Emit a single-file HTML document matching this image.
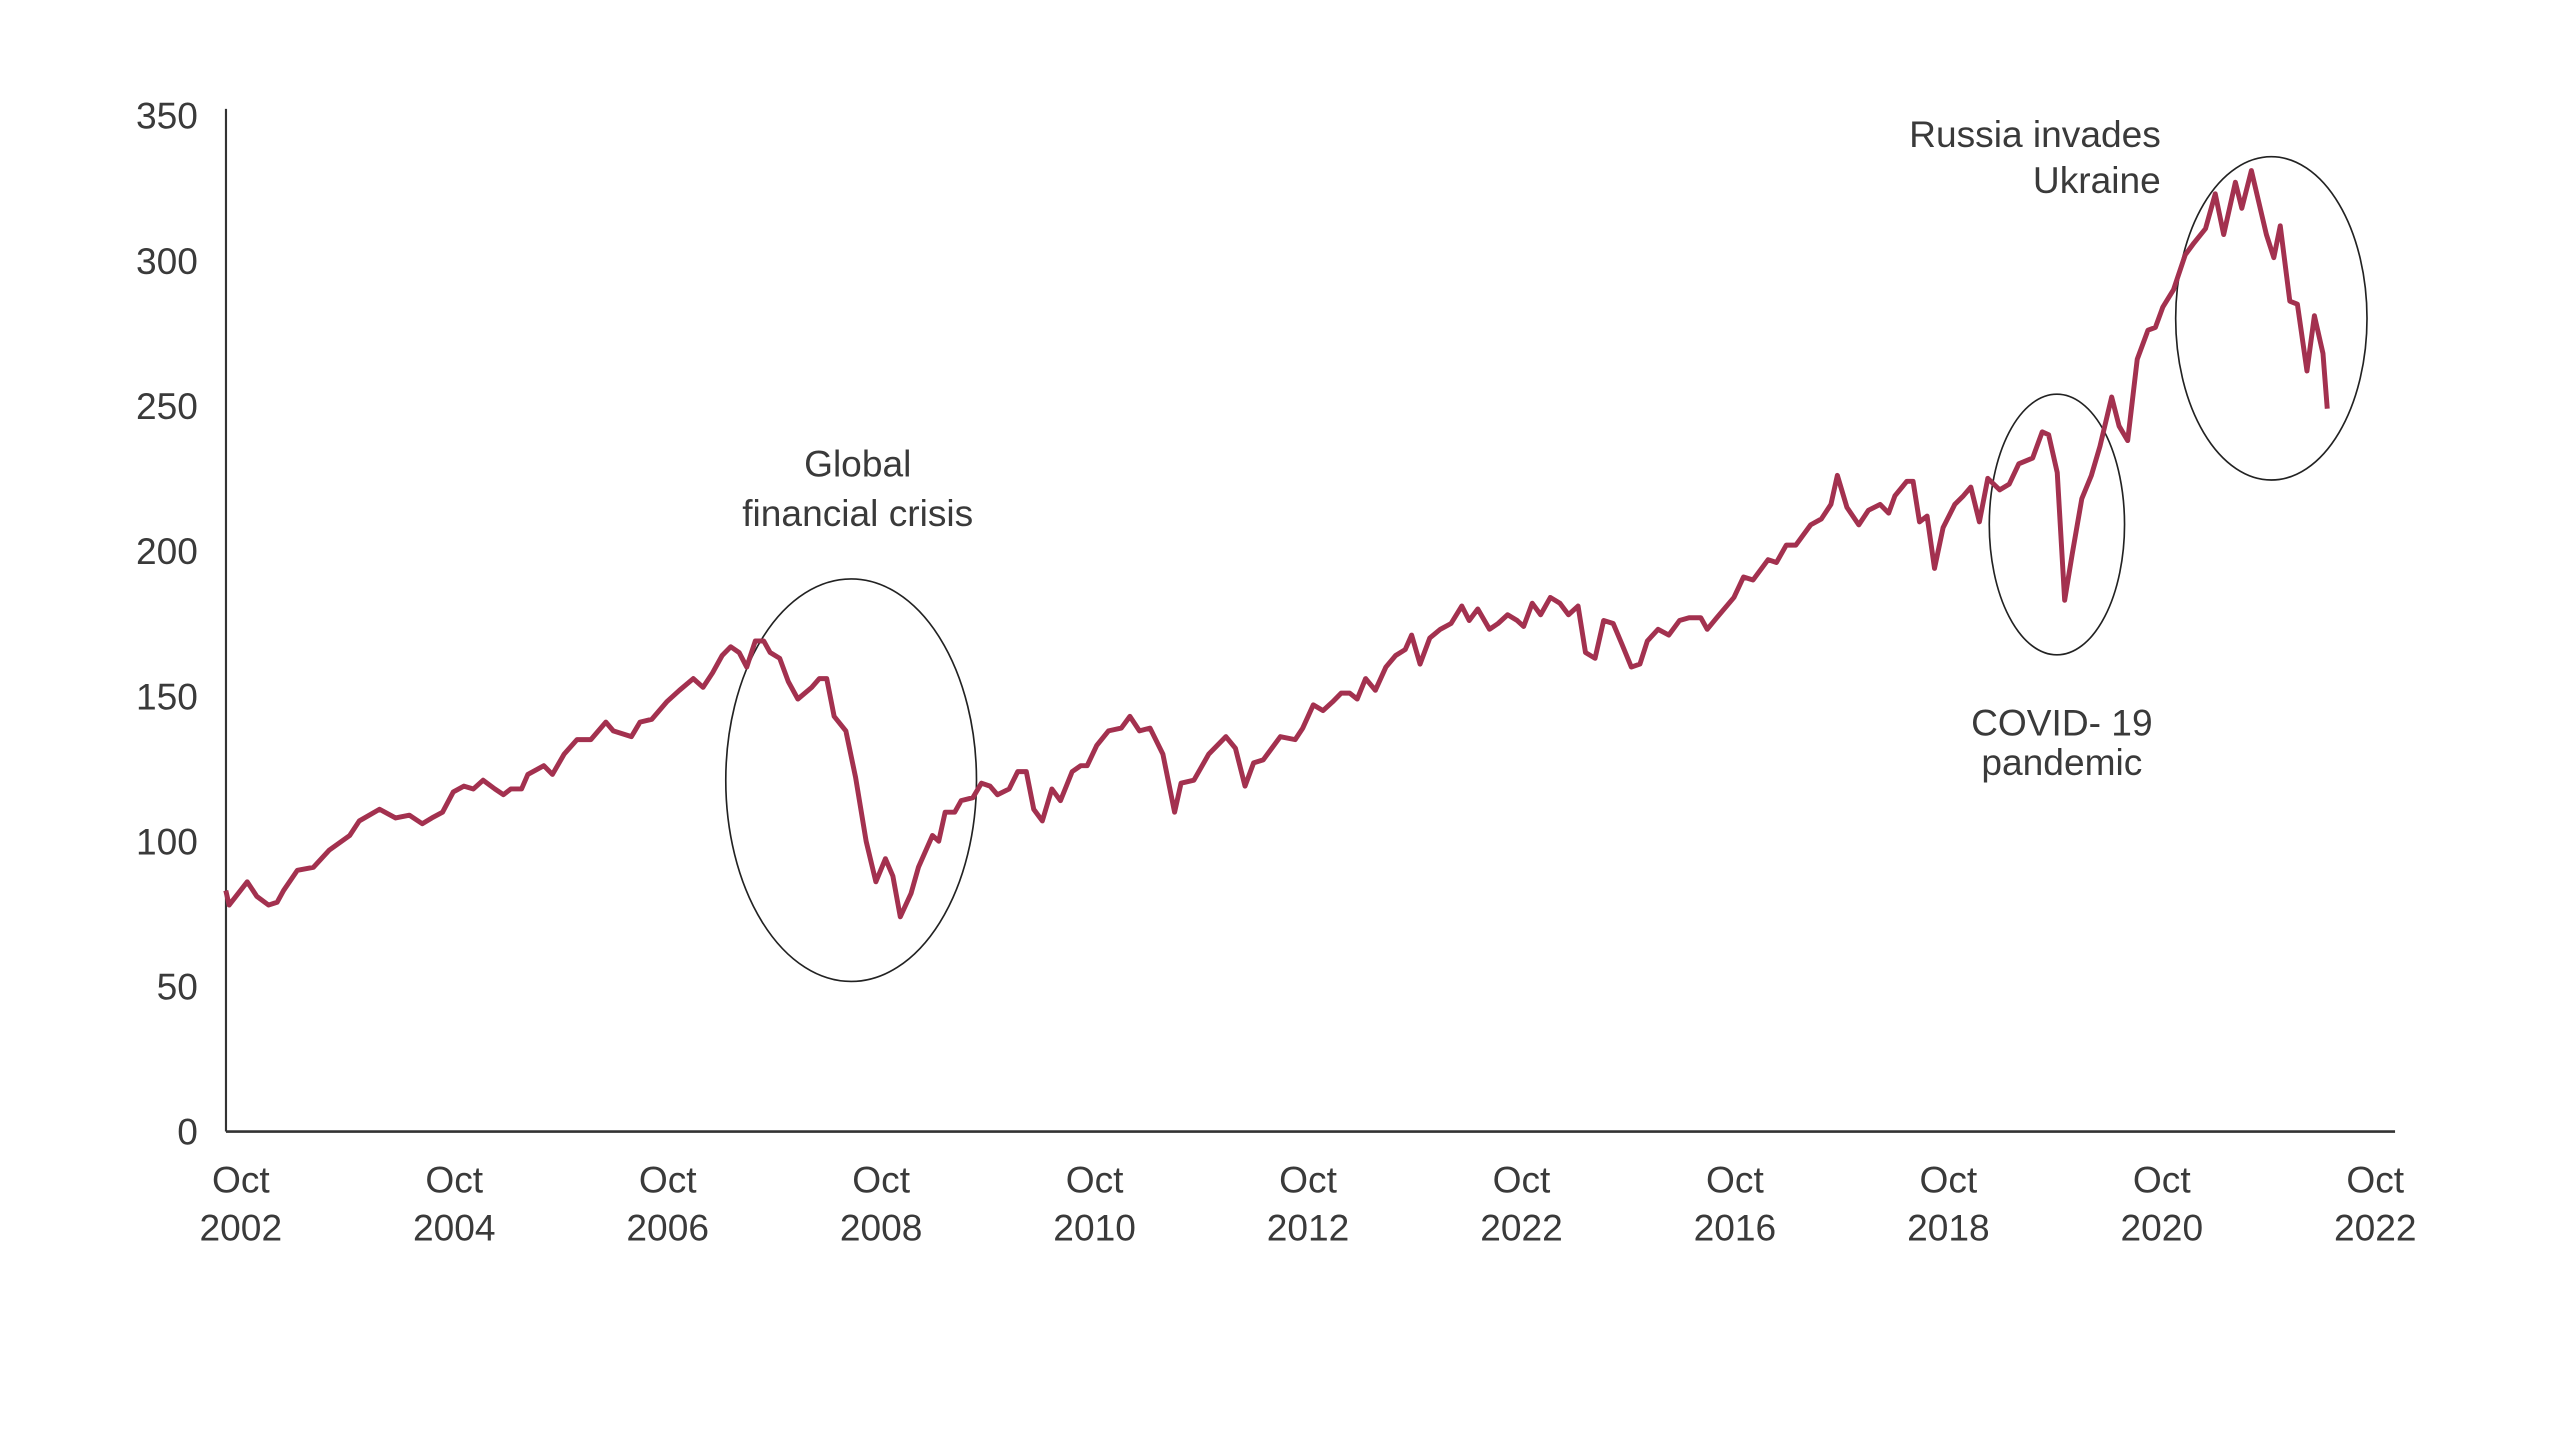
<!DOCTYPE html>
<html><head><meta charset="utf-8"><style>
html,body{margin:0;padding:0;background:#fff;}
svg{display:block;}
text{font-family:"Liberation Sans",sans-serif;fill:#3a3a3a;font-size:22.5px;}
</style></head><body>
<svg id="chart" width="2560" height="1440" viewBox="0 0 1552 873" xmlns="http://www.w3.org/2000/svg">
<g id="axes"></g>
<g id="annots"></g>
<path id="series" fill="none" stroke="#a3314f" stroke-width="3" stroke-linejoin="round"></path>
</svg>
<script>
const years=[2002.61,2002.64,2002.81,2002.90,2003.01,2003.09,2003.15,2003.28,2003.43,2003.58,2003.77,2003.86,2004.05,2004.20,2004.33,2004.45,2004.54,2004.64,2004.74,2004.84,2004.93,2005.02,2005.13,2005.21,2005.28,2005.38,2005.44,2005.59,2005.67,2005.78,2005.90,2006.03,2006.17,2006.24,2006.41,2006.49,2006.60,2006.74,2006.86,2006.99,2007.08,2007.17,2007.26,2007.34,2007.42,2007.49,2007.57,2007.65,2007.71,2007.80,2007.88,2007.97,2008.10,2008.17,2008.24,2008.31,2008.42,2008.51,2008.61,2008.70,2008.79,2008.86,2008.93,2009.03,2009.10,2009.23,2009.29,2009.35,2009.44,2009.50,2009.61,2009.69,2009.77,2009.84,2009.95,2010.03,2010.11,2010.18,2010.26,2010.35,2010.43,2010.54,2010.62,2010.68,2010.77,2010.88,2011.00,2011.08,2011.17,2011.27,2011.39,2011.50,2011.56,2011.68,2011.82,2011.98,2012.07,2012.16,2012.24,2012.33,2012.49,2012.63,2012.70,2012.80,2012.89,2012.98,2013.06,2013.14,2013.21,2013.29,2013.38,2013.48,2013.57,2013.66,2013.72,2013.80,2013.89,2013.99,2014.09,2014.19,2014.26,2014.34,2014.45,2014.53,2014.62,2014.71,2014.77,2014.85,2014.93,2015.02,2015.11,2015.19,2015.28,2015.35,2015.44,2015.52,2015.61,2015.69,2015.78,2015.86,2015.93,2016.03,2016.13,2016.23,2016.32,2016.43,2016.49,2016.58,2016.74,2016.83,2016.92,2017.06,2017.14,2017.23,2017.32,2017.46,2017.56,2017.65,2017.71,2017.80,2017.91,2018.00,2018.11,2018.19,2018.25,2018.36,2018.42,2018.48,2018.55,2018.62,2018.70,2018.81,2018.89,2018.96,2019.04,2019.12,2019.23,2019.32,2019.41,2019.54,2019.63,2019.69,2019.77,2019.84,2019.91,2020.00,2020.09,2020.17,2020.28,2020.35,2020.43,2020.52,2020.62,2020.69,2020.76,2020.86,2020.97,2021.05,2021.16,2021.25,2021.33,2021.44,2021.50,2021.59,2021.73,2021.80,2021.86,2021.95,2022.02,2022.11,2022.18,2022.26,2022.30];
const values=[83,78,86,81,78,79,83,90,91,97,102,107,111,108,109,106,108,110,117,119,118,121,118,116,118,118,123,126,123,130,135,135,141,138,136,141,142,148,152,156,153,158,164,167,165,160,169,169,165,163,155,149,153,156,156,143,138,122,100,86,94,88,74,82,91,102,100,110,110,114,115,120,119,116,118,124,124,111,107,118,114,124,126,126,133,138,139,143,138,139,130,110,120,121,130,136,132,119,127,128,136,135,139,147,145,148,151,151,149,156,152,160,164,166,171,161,170,173,175,181,176,180,173,175,178,176,174,182,178,184,182,178,181,165,163,176,175,168,160,161,169,173,171,176,177,177,173,177,184,191,190,197,196,202,202,209,211,216,226,215,209,214,216,213,219,224,224,210,212,194,208,216,219,222,210,225,221,223,230,232,241,240,227,183,199,218,226,236,253,243,238,266,276,277,284,290,302,306,311,323,309,327,318,331,309,301,312,286,285,262,281,268,249];
const yTicks=[0,50,100,150,200,250,300,350];
const xTickYears=[2002,2004,2006,2008,2010,2012,2014,2016,2018,2020,2022];
const xTickLabels=["2002","2004","2006","2008","2010","2012","2022","2016","2018","2020","2022"];

const NS="http://www.w3.org/2000/svg";
const X0=137,X1=1452,Y0=686;
function xs(yr){return 146+(yr-2002.75)*64.7;}
function ys(v){return Y0-v*1.76;}
function mk(tag,attrs,parent,txt){const e=document.createElementNS(NS,tag);for(const k in attrs)e.setAttribute(k,attrs[k]);if(txt!==undefined)e.textContent=txt;parent.appendChild(e);return e;}
const axes=document.getElementById('axes');
const ya=mk('line',{x1:X0,y1:66,x2:X0,y2:Y0,stroke:'#333','stroke-width':1.3},axes);


const xa=mk('line',{x1:X0,y1:Y0,x2:X1,y2:Y0,stroke:'#333','stroke-width':1.6},axes);


yTicks.forEach(v=>{const t=mk('text',{x:120,y:ys(v)+8,'text-anchor':'end'},axes,String(v));

});
xTickYears.forEach((yr,i)=>{const cx=xs(yr+0.75);
const t1=mk('text',{x:cx,y:723,'text-anchor':'middle'},axes,'Oct');


const t2=mk('text',{x:cx,y:752,'text-anchor':'middle'},axes,xTickLabels[i]);

});
let d='';years.forEach((yr,i)=>{d+=(i?'L':'M')+xs(yr).toFixed(1)+' '+ys(values[i]).toFixed(1);});
document.getElementById('series').setAttribute('d',d);
const an=document.getElementById('annots');
[[516,473,76,122,'gfc-circle'],[1247,318,41,79,'covid-circle'],[1377,193,58,98,'ukraine-circle']].forEach(c=>{
const e=mk('ellipse',{cx:c[0],cy:c[1],rx:c[2],ry:c[3],fill:'none',stroke:'#222','stroke-width':1},an);

});
[[520,289,'middle','Global','gfc-label-1'],[520,319,'middle','financial crisis','gfc-label-2'],
 [1310,89,'end','Russia invades','ukraine-label-1'],[1310,117,'end','Ukraine','ukraine-label-2'],
 [1250,446,'middle','COVID- 19','covid-label-1'],[1250,470,'middle','pandemic','covid-label-2']].forEach(a=>{
const t=mk('text',{x:a[0],y:a[1],'text-anchor':a[2]},an,a[3]);

});
</script>
</body></html>
